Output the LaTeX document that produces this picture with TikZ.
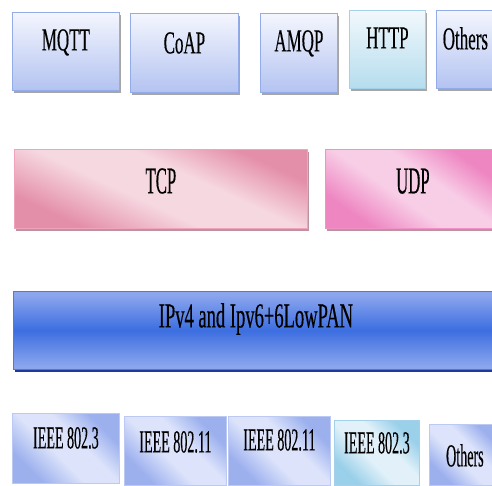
\documentclass[tikz,border=0pt]{standalone}
\usepackage{fontspec}
\newfontfamily\narrowfont[FakeStretch=0.53,FakeBold=0.3]{Liberation Serif}
\newfontfamily\tightfont[FakeStretch=0.44,FakeBold=0.3]{Liberation Serif}

\definecolor{lavtop}{HTML}{F4F6FE}
\definecolor{lavbot}{HTML}{B3C3F1}
\definecolor{lavline}{HTML}{94ABE9}
\definecolor{cyantop}{HTML}{F2F8FC}
\definecolor{cyanbot}{HTML}{B5DDEE}
\definecolor{cyanline}{HTML}{A5D0EA}
\definecolor{tcpL}{HTML}{F6D8E1}
\definecolor{tcpD}{HTML}{E48FA9}
\definecolor{tcpline}{HTML}{F0A3BB}
\definecolor{udpL}{HTML}{F8CDE6}
\definecolor{udpD}{HTML}{EE86C2}
\definecolor{udpline}{HTML}{F291C8}
\definecolor{ipL}{HTML}{8CA6EE}
\definecolor{ipD}{HTML}{3C6EE0}
\definecolor{ipline}{HTML}{4F78E4}
\definecolor{ipshadow}{HTML}{1D3A96}
\definecolor{macL}{HTML}{DCE3FA}
\definecolor{macD}{HTML}{9CB0EE}
\definecolor{macline}{HTML}{BCCAF3}
\definecolor{ethL}{HTML}{E2F1F9}
\definecolor{ethD}{HTML}{9BD0EA}

% dark - light - dark bands, turned by the shading angle
\newcommand\bandshading[3]{%
\pgfdeclareverticalshading{#1}{100bp}{color(0bp)=(#2); color(27bp)=(#2);
  color(44bp)=(#3); color(58bp)=(#3); color(73bp)=(#2); color(100bp)=(#2)}}
\bandshading{tcpband}{tcpD}{tcpL}
\bandshading{udpband}{udpD}{udpL}
\bandshading{macband}{macD}{macL}
\bandshading{ethband}{ethD}{ethL}
\pgfdeclareverticalshading{ipband}{100bp}{color(0bp)=(ipL); color(27bp)=(ipL);
  color(50bp)=(ipD); color(73bp)=(ipL); color(100bp)=(ipL)}

\tikzset{
  layerbox/.style={rectangle, anchor=north west, inner sep=0pt, align=center},
  boxsize/.style n args={3}{minimum width=#1, text height=#2, text depth=#3},
  appbox/.style={layerbox, draw=lavline, line width=0.8pt, top color=lavtop,
    bottom color=lavbot, font=\narrowfont\fontsize{32}{32}\selectfont,
    preaction={fill=black!35, transform canvas={shift={(1.5pt,-2.5pt)}}}},
  webbox/.style={appbox, draw=cyanline, top color=cyantop, bottom color=cyanbot},
  tcpbox/.style={layerbox, draw=tcpline, line width=0.8pt, shading=tcpband,
    shading angle=-25, font=\tightfont\fontsize{38}{38}\selectfont,
    preaction={fill=tcpD!70!black!70, transform canvas={shift={(1.5pt,-2.5pt)}}}},
  udpbox/.style={tcpbox, draw=udpline, shading=udpband, shading angle=-35},
  ipbox/.style={layerbox, draw=ipline, line width=0.8pt, shading=ipband,
    font=\narrowfont\fontsize{35}{35}\selectfont,
    preaction={fill=ipshadow, transform canvas={shift={(1.5pt,-3pt)}}}},
  macbox/.style={layerbox, draw=macline, line width=0.8pt, shading=macband,
    shading angle=-45, font=\tightfont\fontsize{32}{32}\selectfont},
  ethbox/.style={macbox, draw=cyanline, shading=ethband}
}

\begin{document}
\begin{tikzpicture}[x=1pt,y=-1pt]
\useasboundingbox (0,0) rectangle (492,485);
% application layer
\node[appbox, boxsize={107pt}{38pt}{40pt}] (mqtt) at (12,12) {MQTT};
\node[appbox, boxsize={108pt}{40pt}{39pt}] (coap) at (130,13) {CoAP};
\node[appbox, boxsize={77pt}{38pt}{41pt}] (amqp) at (260,13) {AMQP};
\node[webbox, boxsize={76pt}{38pt}{40pt}] (http) at (349,10) {HTTP};
\node[appbox, boxsize={58pt}{39pt}{39pt}] (appother) at (436,10) {Others};
% transport layer
\node[tcpbox, boxsize={293pt}{44pt}{35pt}] (tcp) at (14,149) {TCP};
\node[udpbox, boxsize={175pt}{44pt}{35pt}] (udp) at (325,149) {UDP};
% network layer
\node[ipbox, boxsize={485pt}{36pt}{42pt}] (ip) at (13,291) {IPv4 and Ipv6+6LowPAN};
% link layer
\node[macbox, boxsize={107pt}{35pt}{35pt}] (eth) at (12,413) {IEEE 802.3};
\node[macbox, boxsize={102pt}{36pt}{33pt}] (wifi) at (124,416) {IEEE 802.11};
\node[macbox, boxsize={102pt}{34pt}{35pt}] (wifib) at (228,416) {IEEE 802.11};
\node[ethbox, boxsize={85pt}{33pt}{32pt}] (ethb) at (334,420) {IEEE 802.3};
\node[macbox, boxsize={71pt}{42pt}{19pt}] (linkother) at (429,424) {Others};
\end{tikzpicture}
\end{document}
